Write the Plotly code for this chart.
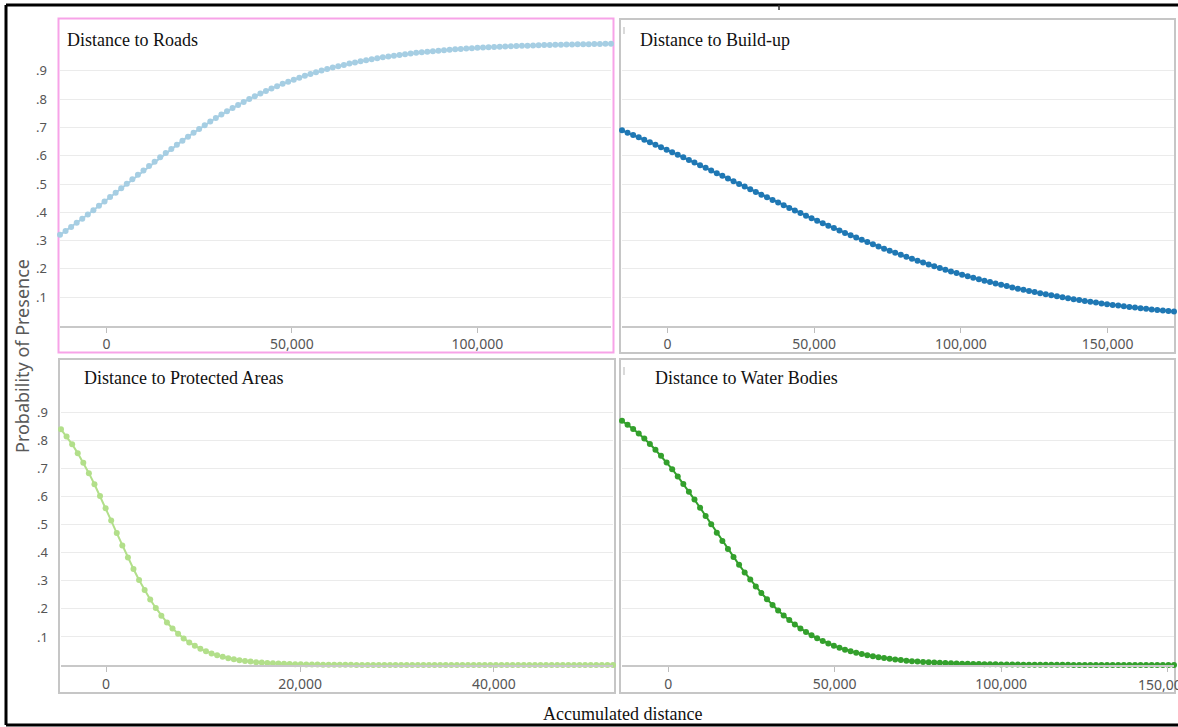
import plotly.graph_objects as go

# ---------------- data ----------------
roads_x = [-12500, -11000, -9500, -8000, -6500, -5000, -3500, -2000, -500, 1000,
           2500, 4000, 5500, 7000, 8500, 10000, 11500, 13000, 14500, 16000,
           17500, 19000, 20500, 22000, 23500, 25000, 26500, 28000, 29500, 31000,
           32500, 34000, 35500, 37000, 38500, 40000, 41500, 43000, 44500, 46000,
           47500, 49000, 50500, 52000, 53500, 55000, 56500, 58000, 59500, 61000,
           62500, 64000, 65500, 67000, 68500, 70000, 71500, 73000, 74500, 76000,
           77500, 79000, 80500, 82000, 83500, 85000, 86500, 88000, 89500, 91000,
           92500, 94000, 95500, 97000, 98500, 100000, 101500, 103000, 104500, 106000,
           107500, 109000, 110500, 112000, 113500, 115000, 116500, 118000, 119500, 121000,
           122500, 124000, 125500, 127000, 128500, 130000, 131500, 133000, 134500, 136000]
roads_y = [0.3204, 0.3343, 0.3484, 0.3629, 0.3776, 0.3925, 0.4076, 0.4229, 0.4383, 0.4539,
           0.4696, 0.4853, 0.5010, 0.5168, 0.5325, 0.5481, 0.5637, 0.5791, 0.5944, 0.6095,
           0.6243, 0.6390, 0.6534, 0.6675, 0.6813, 0.6949, 0.7081, 0.7209, 0.7334, 0.7455,
           0.7573, 0.7687, 0.7797, 0.7903, 0.8006, 0.8104, 0.8199, 0.8291, 0.8378, 0.8462,
           0.8542, 0.8618, 0.8692, 0.8762, 0.8829, 0.8892, 0.8953, 0.9011, 0.9065, 0.9117,
           0.9167, 0.9213, 0.9258, 0.9300, 0.9340, 0.9377, 0.9413, 0.9447, 0.9480, 0.9509,
           0.9538, 0.9565, 0.9590, 0.9614, 0.9638, 0.9659, 0.9679, 0.9698, 0.9716, 0.9733,
           0.9748, 0.9764, 0.9778, 0.9791, 0.9804, 0.9815, 0.9826, 0.9837, 0.9846, 0.9856,
           0.9865, 0.9873, 0.9880, 0.9887, 0.9894, 0.9901, 0.9907, 0.9913, 0.9918, 0.9923,
           0.9928, 0.9931, 0.9935, 0.9939, 0.9943, 0.9946, 0.9950, 0.9953, 0.9956, 0.9958]

buildup_x = [-15500, -13600, -11700, -9800, -7900, -6000, -4100, -2200, -300, 1600,
             3500, 5400, 7300, 9200, 11100, 13000, 14900, 16800, 18700, 20600,
             22500, 24400, 26300, 28200, 30100, 32000, 33900, 35800, 37700, 39600,
             41500, 43400, 45300, 47200, 49100, 51000, 52900, 54800, 56700, 58600,
             60500, 62400, 64300, 66200, 68100, 70000, 71900, 73800, 75700, 77600,
             79500, 81400, 83300, 85200, 87100, 89000, 90900, 92800, 94700, 96600,
             98500, 100400, 102300, 104200, 106100, 108000, 109900, 111800, 113700, 115600,
             117500, 119400, 121300, 123200, 125100, 127000, 128900, 130800, 132700, 134600,
             136500, 138400, 140300, 142200, 144100, 146000, 147900, 149800, 151700, 153600,
             155500, 157400, 159300, 161200, 163100, 165000, 166900, 168800, 170700, 172600]
buildup_y = [0.6900, 0.6818, 0.6735, 0.6651, 0.6566, 0.6479, 0.6392, 0.6304, 0.6215, 0.6125,
             0.6035, 0.5944, 0.5852, 0.5759, 0.5666, 0.5573, 0.5479, 0.5384, 0.5290, 0.5195,
             0.5100, 0.5005, 0.4910, 0.4815, 0.4720, 0.4626, 0.4531, 0.4438, 0.4344, 0.4251,
             0.4158, 0.4066, 0.3975, 0.3884, 0.3794, 0.3705, 0.3617, 0.3530, 0.3444, 0.3358,
             0.3274, 0.3191, 0.3109, 0.3028, 0.2948, 0.2870, 0.2793, 0.2717, 0.2643, 0.2569,
             0.2498, 0.2427, 0.2358, 0.2290, 0.2224, 0.2159, 0.2095, 0.2033, 0.1972, 0.1912,
             0.1854, 0.1798, 0.1742, 0.1688, 0.1636, 0.1584, 0.1534, 0.1486, 0.1438, 0.1392,
             0.1347, 0.1303, 0.1261, 0.1220, 0.1180, 0.1141, 0.1103, 0.1066, 0.1030, 0.0996,
             0.0962, 0.0930, 0.0898, 0.0868, 0.0838, 0.0809, 0.0781, 0.0754, 0.0728, 0.0703,
             0.0679, 0.0655, 0.0632, 0.0610, 0.0589, 0.0568, 0.0548, 0.0529, 0.0510, 0.0492]

protected_x = [-4650, -4075, -3500, -2925, -2350, -1775, -1200, -625, -50, 525,
               1100, 1675, 2250, 2825, 3400, 3975, 4550, 5125, 5700, 6275,
               6850, 7425, 8000, 8575, 9150, 9725, 10300, 10875, 11450, 12025,
               12600, 13175, 13750, 14325, 14900, 15475, 16050, 16625, 17200, 17775,
               18350, 18925, 19500, 20075, 20650, 21225, 21800, 22375, 22950, 23525,
               24100, 24675, 25250, 25825, 26400, 26975, 27550, 28125, 28700, 29275,
               29850, 30425, 31000, 31575, 32150, 32725, 33300, 33875, 34450, 35025,
               35600, 36175, 36750, 37325, 37900, 38475, 39050, 39625, 40200, 40775,
               41350, 41925, 42500, 43075, 43650, 44225, 44800, 45375, 45950, 46525,
               47100, 47675, 48250, 48825, 49400, 49975, 50550, 51125, 51700, 52275]
protected_y = [0.8409, 0.8155, 0.7872, 0.7558, 0.7214, 0.6843, 0.6446, 0.6028, 0.5594, 0.5151,
               0.4706, 0.4265, 0.3836, 0.3424, 0.3035, 0.2672, 0.2338, 0.2034, 0.1760, 0.1516,
               0.1301, 0.1112, 0.0948, 0.0805, 0.0683, 0.0578, 0.0488, 0.0412, 0.0347, 0.0292,
               0.0245, 0.0206, 0.0173, 0.0145, 0.0122, 0.0102, 0.0086, 0.0072, 0.0060, 0.0050,
               0.0042, 0.0035, 0.0030, 0.0025, 0.0021, 0.0017, 0.0015, 0.0012, 0.0010, 0.0009,
               0.0007, 0.0006, 0.0005, 0.0004, 0.0003, 0.0003, 0.0002, 0.0002, 0.0002, 0.0001,
               0.0001, 0.0001, 0.0001, 0.0001, 0.0001, 0.0, 0.0, 0.0, 0.0, 0.0,
               0.0, 0.0, 0.0, 0.0, 0.0, 0.0, 0.0, 0.0, 0.0, 0.0,
               0.0, 0.0, 0.0, 0.0, 0.0, 0.0, 0.0, 0.0, 0.0, 0.0,
               0.0, 0.0, 0.0, 0.0, 0.0, 0.0, 0.0, 0.0, 0.0, 0.0]

water_x = [-13900, -12225, -10550, -8875, -7200, -5525, -3850, -2175, -500, 1175,
           2850, 4525, 6200, 7875, 9550, 11225, 12900, 14575, 16250, 17925,
           19600, 21275, 22950, 24625, 26300, 27975, 29650, 31325, 33000, 34675,
           36350, 38025, 39700, 41375, 43050, 44725, 46400, 48075, 49750, 51425,
           53100, 54775, 56450, 58125, 59800, 61475, 63150, 64825, 66500, 68175,
           69850, 71525, 73200, 74875, 76550, 78225, 79900, 81575, 83250, 84925,
           86600, 88275, 89950, 91625, 93300, 94975, 96650, 98325, 100000, 101675,
           103350, 105025, 106700, 108375, 110050, 111725, 113400, 115075, 116750, 118425,
           120100, 121775, 123450, 125125, 126800, 128475, 130150, 131825, 133500, 135175,
           136850, 138525, 140200, 141875, 143550, 145225, 146900, 148575, 150250, 151925]
water_y = [0.8710, 0.8570, 0.8418, 0.8254, 0.8076, 0.7884, 0.7679, 0.7460, 0.7228, 0.6984,
           0.6728, 0.6461, 0.6184, 0.5900, 0.5610, 0.5315, 0.5018, 0.4721, 0.4426, 0.4135,
           0.3850, 0.3572, 0.3304, 0.3047, 0.2801, 0.2567, 0.2347, 0.2140, 0.1947, 0.1767,
           0.1601, 0.1447, 0.1306, 0.1177, 0.1059, 0.0952, 0.0854, 0.0766, 0.0686, 0.0613,
           0.0548, 0.0490, 0.0437, 0.0390, 0.0348, 0.0310, 0.0276, 0.0246, 0.0219, 0.0195,
           0.0174, 0.0154, 0.0137, 0.0122, 0.0109, 0.0097, 0.0086, 0.0076, 0.0068, 0.0060,
           0.0054, 0.0048, 0.0042, 0.0038, 0.0033, 0.0030, 0.0026, 0.0023, 0.0021, 0.0018,
           0.0016, 0.0015, 0.0013, 0.0012, 0.0010, 0.0009, 0.0008, 0.0007, 0.0006, 0.0006,
           0.0005, 0.0004, 0.0004, 0.0004, 0.0003, 0.0003, 0.0002, 0.0002, 0.0002, 0.0002,
           0.0002, 0.0001, 0.0001, 0.0001, 0.0001, 0.0001, 0.0001, 0.0001, 0.0001, 0.0000]

panel_titles = ["Distance to Roads", "Distance to Build-up",
                "Distance to Protected Areas", "Distance to Water Bodies"]
series_colors = ["#a6cee3", "#1f78b4", "#b2df8a", "#33a02c"]
y_tick_vals = [0.1, 0.2, 0.3, 0.4, 0.5, 0.6, 0.7, 0.8, 0.9]
y_tick_text = [".1", ".2", ".3", ".4", ".5", ".6", ".7", ".8", ".9"]
x_dticks = [50000, 50000, 20000, 50000]
edge_tick_label = "150,00"   # last tick label of the water panel, cut by the picture edge
y_title = "Probability of Presence"
x_title = "Accumulated distance"

# ---------------- layout helpers (pixel -> paper) ----------------
W, H = 1178, 727


def fx(px):
    return px / W


def fy(py):
    return 1 - py / H


# plot areas: (left, right, top, bottom) in pixels
areas = [(60, 611, 20, 325.5), (622, 1174, 20, 325.5),
         (61, 613, 360, 665), (622, 1174, 360, 665)]
y_tops = [1.080, 1.080, 1.088, 1.088]
title_pos = [(65, 40), (638, 40), (82, 378), (653, 378)]

xs = [roads_x, buildup_x, protected_x, water_x]
ys = [roads_y, buildup_y, protected_y, water_y]

fig = go.Figure()
layout = dict(width=W, height=H, autosize=False,
              margin=dict(l=0, r=0, t=0, b=0),
              paper_bgcolor="white", plot_bgcolor="white",
              showlegend=False)

TICKFONT = dict(family="Noto Sans, Open Sans, sans-serif", size=14, color="#555555")

for i in range(4):
    sfx = "" if i == 0 else str(i + 1)
    fig.add_trace(go.Scatter(
        x=xs[i], y=ys[i], mode="lines+markers",
        xaxis="x" + sfx, yaxis="y" + sfx,
        line=dict(color=series_colors[i], width=2),
        marker=dict(color=series_colors[i], size=6),
        cliponaxis=False, hoverinfo="skip"))
    l, r, t, b = areas[i]
    layout["xaxis" + sfx] = dict(
        domain=[fx(l), fx(r)], anchor="y" + sfx,
        range=[xs[i][0], xs[i][-1]],
        tick0=0, dtick=x_dticks[i], tickformat=",",
        showgrid=False, zeroline=False,
        showline=True, linecolor="#c8c8c8", linewidth=2,
        ticks="outside", ticklen=5, tickcolor="#bdbdbd", tickwidth=1,
        tickfont=TICKFONT, fixedrange=True)
    layout["yaxis" + sfx] = dict(
        domain=[fy(b), fy(t)], anchor="x" + sfx,
        range=[0, y_tops[i]],
        tickvals=y_tick_vals, ticktext=y_tick_text,
        showticklabels=(i in (0, 2)),
        showgrid=True, gridcolor="#ebebeb", gridwidth=1,
        zeroline=False, showline=False, ticks="",
        ticklabelstandoff=12,
        tickfont=dict(family="Noto Sans, Open Sans, sans-serif", size=13, color="#555555"),
        fixedrange=True)

annotations = []
for i in range(4):
    px, py = title_pos[i]
    annotations.append(dict(
        text=panel_titles[i], x=fx(px), y=fy(py), xref="paper", yref="paper",
        xanchor="left", yanchor="middle", showarrow=False,
        font=dict(family="Liberation Serif, Times New Roman, serif", size=18, color="#111111")))
annotations.append(dict(
    text=y_title, x=fx(22), y=fy(356), xref="paper", yref="paper",
    xanchor="center", yanchor="middle", textangle=-90, showarrow=False,
    font=dict(family="Noto Sans, Open Sans, sans-serif", size=18, color="#595959")))
annotations.append(dict(
    text=x_title, x=fx(622), y=fy(714), xref="paper", yref="paper",
    xanchor="center", yanchor="middle", showarrow=False,
    font=dict(family="Liberation Serif, Times New Roman, serif", size=18, color="#111111")))
annotations.append(dict(
    text=edge_tick_label, x=fx(1136), y=fy(684), xref="paper", yref="paper",
    xanchor="left", yanchor="middle", showarrow=False, font=TICKFONT))
layout["annotations"] = annotations

shapes = []
# panel frames
panels = [(58.5, 613.5, 18.5, 352.5, "#f7a3e8"),
          (620, 1175, 19, 353, "#c6c6c6"),
          (59, 615, 359, 693, "#c6c6c6"),
          (620, 1175, 359, 693, "#c6c6c6")]
for (l, r, t, b, c) in panels:
    shapes.append(dict(type="rect", xref="paper", yref="paper",
                       x0=fx(l), x1=fx(r), y0=fy(b), y1=fy(t),
                       line=dict(color=c, width=2), fillcolor="rgba(0,0,0,0)", layer="below"))
# outer black frame (right side falls outside the picture)
for (x0, y0, x1, y1) in [(6, 5, 1180, 5), (6, 5, 6, 725), (6, 725, 1180, 725)]:
    shapes.append(dict(type="line", xref="paper", yref="paper",
                       x0=fx(x0), y0=fy(y0), x1=fx(x1), y1=fy(y1),
                       line=dict(color="black", width=3)))
# small stray marks
shapes.append(dict(type="line", xref="paper", yref="paper",
                   x0=fx(779), y0=fy(5), x1=fx(779), y1=fy(10),
                   line=dict(color="#333333", width=1.5)))
for (yy0, yy1) in [(27, 34), (367, 375)]:
    shapes.append(dict(type="line", xref="paper", yref="paper",
                       x0=fx(624), y0=fy(yy0), x1=fx(624), y1=fy(yy1),
                       line=dict(color="#b5b5b5", width=1)))
layout["shapes"] = shapes

fig.update_layout(**layout)
fig.write_html("out.html", config={"displayModeBar": False},
               post_script="document.body.style.margin='0';document.body.style.overflow='hidden';")
